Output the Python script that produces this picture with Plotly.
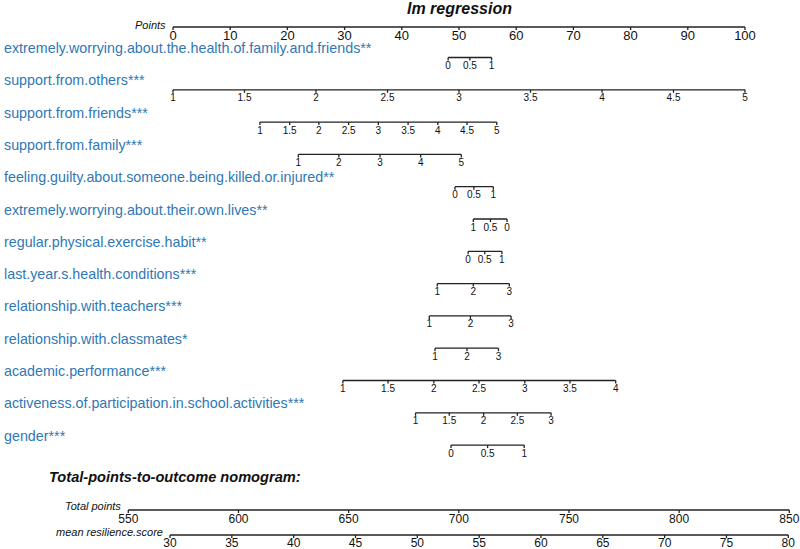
import plotly.graph_objects as go

# predictor names (with significance stars)
names = [
    "extremely.worrying.about.the.health.of.family.and.friends**",
    "support.from.others***",
    "support.from.friends***",
    "support.from.family***",
    "feeling.guilty.about.someone.being.killed.or.injured**",
    "extremely.worrying.about.their.own.lives**",
    "regular.physical.exercise.habit**",
    "last.year.s.health.conditions***",
    "relationship.with.teachers***",
    "relationship.with.classmates*",
    "academic.performance***",
    "activeness.of.participation.in.school.activities***",
    "gender***",
]

# tick labels of each predictor scale
tick_labels = [
    ["0", "0.5", "1"],
    ["1", "1.5", "2", "2.5", "3", "3.5", "4", "4.5", "5"],
    ["1", "1.5", "2", "2.5", "3", "3.5", "4", "4.5", "5"],
    ["1", "2", "3", "4", "5"],
    ["0", "0.5", "1"],
    ["1", "0.5", "0"],
    ["0", "0.5", "1"],
    ["1", "2", "3"],
    ["1", "2", "3"],
    ["1", "2", "3"],
    ["1", "1.5", "2", "2.5", "3", "3.5", "4"],
    ["1", "1.5", "2", "2.5", "3"],
    ["0", "0.5", "1"],
]

# points (0-100 scale) where each tick label sits
tick_points = [
    [48.1, 51.9, 55.7],
    [0, 12.5, 25, 37.5, 50, 62.5, 75, 87.5, 100],
    [15.2, 20.4, 25.5, 30.7, 35.9, 41.1, 46.3, 51.4, 56.6],
    [21.9, 29.0, 36.2, 43.3, 50.4],
    [49.3, 52.6, 56.0],
    [52.5, 55.5, 58.4],
    [51.6, 54.5, 57.5],
    [46.2, 52.5, 58.8],
    [44.8, 52.0, 59.1],
    [45.8, 51.4, 56.9],
    [29.7, 37.6, 45.6, 53.5, 61.5, 69.4, 77.4],
    [42.4, 48.3, 54.3, 60.2, 66.1],
    [48.6, 55.0, 61.4],
]

points_ticks = [0, 10, 20, 30, 40, 50, 60, 70, 80, 90, 100]
total_ticks = [550, 600, 650, 700, 750, 800, 850]
resil_ticks = [30, 35, 40, 45, 50, 55, 60, 65, 70, 75, 80]

BLUE = "#2f78b4"
FONT = "Liberation Sans, Arial, sans-serif"
W, H = 800, 549

fig = go.Figure()


def axis_line(ticks, y, xaxis, labels, tick_len=3, size=10, dy=9):
    lx, ly = [], []
    lx += [ticks[0], ticks[-1], None]
    ly += [y, y, None]
    for t in ticks:
        lx += [t, t, None]
        ly += [y, y + tick_len, None]
    fig.add_trace(go.Scatter(x=lx, y=ly, xaxis=xaxis, mode="lines",
                             line=dict(color="#222", width=1.3),
                             hoverinfo="skip"))
    fig.add_trace(go.Scatter(x=ticks, y=[y + dy] * len(ticks), xaxis=xaxis,
                             mode="text", text=labels,
                             textfont=dict(family=FONT, size=size, color="#111"),
                             hoverinfo="skip"))


# Points axis
axis_line(points_ticks, 27, "x", [str(v) for v in points_ticks],
          tick_len=3, size=13, dy=10)

row0_label, row0_line, step = 48, 57.5, 32.3
for i, name in enumerate(names):
    yl = row0_label + i * step
    fig.add_annotation(x=2 / W, y=yl, xref="paper", yref="y", text=name,
                       showarrow=False, xanchor="left", yanchor="middle",
                       font=dict(family=FONT, size=14.3, color=BLUE))
    axis_line(tick_points[i], row0_line + i * step, "x", tick_labels[i],
              tick_len=3, size=10, dy=9)

# Total points and outcome
axis_line(total_ticks, 510, "x2", [str(v) for v in total_ticks],
          tick_len=3, size=12, dy=10)
axis_line(resil_ticks, 535, "x3", [str(v) for v in resil_ticks],
          tick_len=3, size=12, dy=8.5)

italic = dict(family=FONT, size=11, color="#111")
fig.add_annotation(x=168 / W, y=25, xref="paper", yref="y",
                   text="<i>Points</i>", showarrow=False, xanchor="right",
                   yanchor="middle", font=italic)
fig.add_annotation(x=123 / W, y=506, xref="paper", yref="y",
                   text="<i>Total points</i>", showarrow=False, xanchor="right",
                   yanchor="middle", font=italic)
fig.add_annotation(x=165 / W, y=532, xref="paper", yref="y",
                   text="<i>mean resilience.score</i>", showarrow=False,
                   xanchor="right", yanchor="middle", font=italic)
fig.add_annotation(x=460 / W, y=8, xref="paper", yref="y",
                   text="<b><i>lm regression</i></b>", showarrow=False,
                   xanchor="center", yanchor="middle",
                   font=dict(family=FONT, size=16, color="#111"))
fig.add_annotation(x=47 / W, y=477, xref="paper", yref="y",
                   text="<b><i>Total-points-to-outcome nomogram:</i></b>",
                   showarrow=False, xanchor="left", yanchor="middle",
                   font=dict(family=FONT, size=14.6, color="#111"))

hidden = dict(visible=False, showgrid=False, zeroline=False, fixedrange=True)
fig.update_layout(
    width=W, height=H,
    margin=dict(l=0, r=0, t=0, b=0),
    showlegend=False,
    plot_bgcolor="white", paper_bgcolor="white",
    xaxis=dict(range=[-173 / 5.72, (W - 173) / 5.72], **hidden),
    xaxis2=dict(range=[550 - 128.3 / 2.2033, 850 + (W - 789.3) / 2.2033],
                overlaying="x", **hidden),
    xaxis3=dict(range=[30 - 170 / 12.366, 80 + (W - 788.3) / 12.366],
                overlaying="x", **hidden),
    yaxis=dict(range=[H, 0], **hidden),
)

fig.write_html("out.html", config={"displayModeBar": False},
               post_script="document.body.style.margin='0px';")
